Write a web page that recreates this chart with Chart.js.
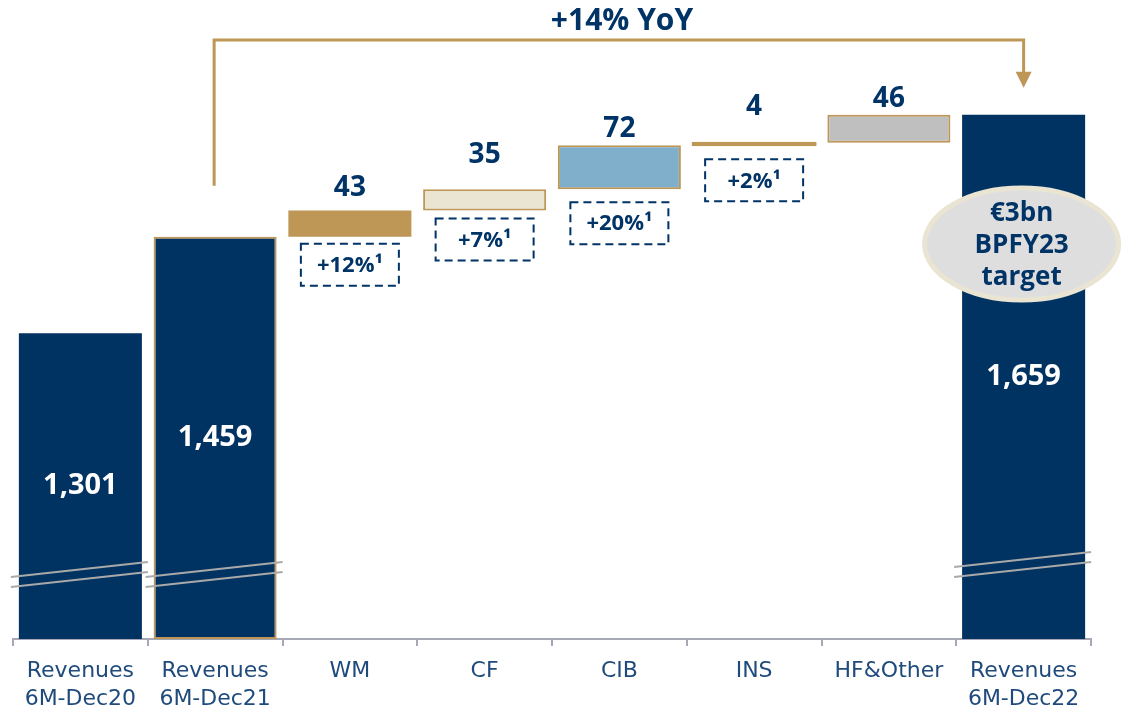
<!DOCTYPE html>
<html>
<head>
<meta charset="utf-8">
<script src="https://cdn.jsdelivr.net/npm/chart.js@4.4.0/dist/chart.umd.min.js"></script>
<style>
  html, body { margin: 0; padding: 0; background: #ffffff; }
  #wrap { width: 1122px; height: 711px; position: relative; }
</style>
</head>
<body>
<div id="wrap"><canvas id="c"></canvas></div>
<script>
// ---- data ----
const categories = [
  ['Revenues', '6M-Dec20'],
  ['Revenues', '6M-Dec21'],
  'WM', 'CF', 'CIB', 'INS', 'HF&Other',
  ['Revenues', '6M-Dec22']
];
const values = [1301, 1459, 43, 35, 72, 4, 46, 1659];
const kinds = ['total', 'total', 'delta', 'delta', 'delta', 'delta', 'delta', 'total'];
const growthLabels = [null, null, '+12%\u00B9', '+7%\u00B9', '+20%\u00B9', '+2%\u00B9', null, null];
const yoyLabel = '+14% YoY';
const targetLines = ['\u20AC3bn', 'BPFY23', 'target'];
const axisMin = 800;
const axisMax = 1847;

// ---- styles ----
const NAVY = '#003262';
const GOLD = '#BE9656';
const TEXT = '#003366';
const fills = [NAVY, NAVY, GOLD, '#EAE4D3', '#80AFCB', GOLD, '#BFBFBF', NAVY];
const borders = [NAVY, GOLD, GOLD, GOLD, GOLD, GOLD, GOLD, NAVY];
const borderWidths = [0, 2, 0, 2, 2, 2, 2, 0];
const inflate = [0, 0, 0, 0, 0, 1, 0, 0];
const labelLift = [0, 0, 23, 34, 16, 36, 16, 0];   // px above bar top for delta labels
const boxGap = [0, 0, 7, 8, 13, 14, 0, 0];          // px below bar bottom for growth boxes

// build floating bars
const floating = [];
let running = 0;
values.forEach((v, i) => {
  if (kinds[i] === 'total') { floating.push([axisMin, v]); running = v; }
  else { floating.push([running, running + v]); running += v; }
});

const annot = {
  id: 'annot',
  afterDatasetsDraw(chart) {
    const ctx = chart.ctx;
    const meta = chart.getDatasetMeta(0);
    const yS = chart.scales.y;
    const bottom = yS.getPixelForValue(axisMin);
    ctx.save();

    // axis-break marks
    meta.data.forEach((bar, i) => {
      if (kinds[i] !== 'total') return;
      const left = bar.x - bar.width / 2 - 8;
      const right = bar.x + bar.width / 2 + 6;
      const base = bottom - (i === 7 ? 72 : 62);
      ctx.strokeStyle = '#A9A9A9';
      ctx.lineWidth = 2;
      [0, 10].forEach(off => {
        ctx.beginPath();
        ctx.moveTo(left, base + off);
        ctx.lineTo(right, base + off - 15);
        ctx.stroke();
      });
    });

    // value labels
    ctx.textAlign = 'center';
    ctx.textBaseline = 'middle';
    meta.data.forEach((bar, i) => {
      if (kinds[i] === 'total') {
        ctx.fillStyle = '#ffffff';
        ctx.font = 'bold 29px "Open Sans"';
        ctx.fillText(values[i].toLocaleString('en-US'), bar.x, (bar.y + bar.base) / 2);
      } else {
        ctx.fillStyle = TEXT;
        ctx.font = 'bold 28px "Open Sans"';
        const top = Math.min(bar.y, bar.base);
        ctx.fillText(String(values[i]), bar.x, top - labelLift[i]);
      }
    });

    // growth boxes
    meta.data.forEach((bar, i) => {
      if (!growthLabels[i]) return;
      const bot = Math.max(bar.y, bar.base);
      const w = 98, h = 42;
      const top = bot + boxGap[i];
      ctx.setLineDash([8, 5]);
      ctx.strokeStyle = TEXT;
      ctx.lineWidth = 2;
      ctx.strokeRect(bar.x - w / 2, top, w, h);
      ctx.setLineDash([]);
      ctx.fillStyle = TEXT;
      ctx.font = 'bold 22px "Open Sans"';
      ctx.fillText(growthLabels[i], bar.x, top + h / 2 + 1);
    });

    // bracket arrow
    const b1 = meta.data[1], b7 = meta.data[7];
    const yTop = 40;
    ctx.strokeStyle = GOLD;
    ctx.lineWidth = 3;
    ctx.beginPath();
    ctx.moveTo(b1.x - 1, b1.y - 51);
    ctx.lineTo(b1.x - 1, yTop);
    ctx.lineTo(b7.x, yTop);
    ctx.lineTo(b7.x, b7.y - 42);
    ctx.stroke();
    ctx.fillStyle = GOLD;
    ctx.beginPath();
    ctx.moveTo(b7.x - 8, b7.y - 43);
    ctx.lineTo(b7.x + 8, b7.y - 43);
    ctx.lineTo(b7.x, b7.y - 27);
    ctx.closePath();
    ctx.fill();

    // title
    ctx.fillStyle = TEXT;
    ctx.font = 'bold 30px "Open Sans"';
    ctx.fillText(yoyLabel, 622, 21);

    // target ellipse
    const ex = b7.x - 2, ey = 244;
    ctx.beginPath();
    ctx.ellipse(ex, ey, 97, 56, 0, 0, Math.PI * 2);
    ctx.fillStyle = '#DEDEDE';
    ctx.fill();
    ctx.strokeStyle = '#EAE4D3';
    ctx.lineWidth = 5;
    ctx.stroke();
    ctx.fillStyle = TEXT;
    ctx.font = 'bold 26px "Open Sans"';
    targetLines.forEach((t, k) => ctx.fillText(t, ex, 214 + k * 32));

    ctx.restore();
  }
};

new Chart(document.getElementById('c'), {
  type: 'bar',
  data: {
    labels: categories,
    datasets: [{
      data: floating,
      backgroundColor: fills,
      borderColor: borders,
      borderWidth: borderWidths,
      inflateAmount: inflate,
      borderSkipped: false,
      barPercentage: 0.913,
      categoryPercentage: 1
    }]
  },
  options: {
    responsive: true,
    maintainAspectRatio: false,
    animation: false,
    layout: { padding: { left: 13, right: 31, top: 0, bottom: 0 } },
    plugins: { legend: { display: false }, tooltip: { enabled: false } },
    scales: {
      y: { display: false, min: axisMin, max: axisMax },
      x: {
        afterFit(scale) { scale.height = 72; },
        grid: { display: true, drawOnChartArea: false, drawTicks: true, tickLength: 7, color: '#A6A8B6', lineWidth: 2, offset: true },
        border: { display: true, color: '#A6A8B6', width: 2 },
        ticks: {
          color: '#1F4A7C',
          font: { family: '"DejaVu Sans"', size: 22, lineHeight: 1.25 },
          padding: 12,
          maxRotation: 0,
          autoSkip: false
        }
      }
    }
  },
  plugins: [annot]
});
</script>
</body>
</html>
